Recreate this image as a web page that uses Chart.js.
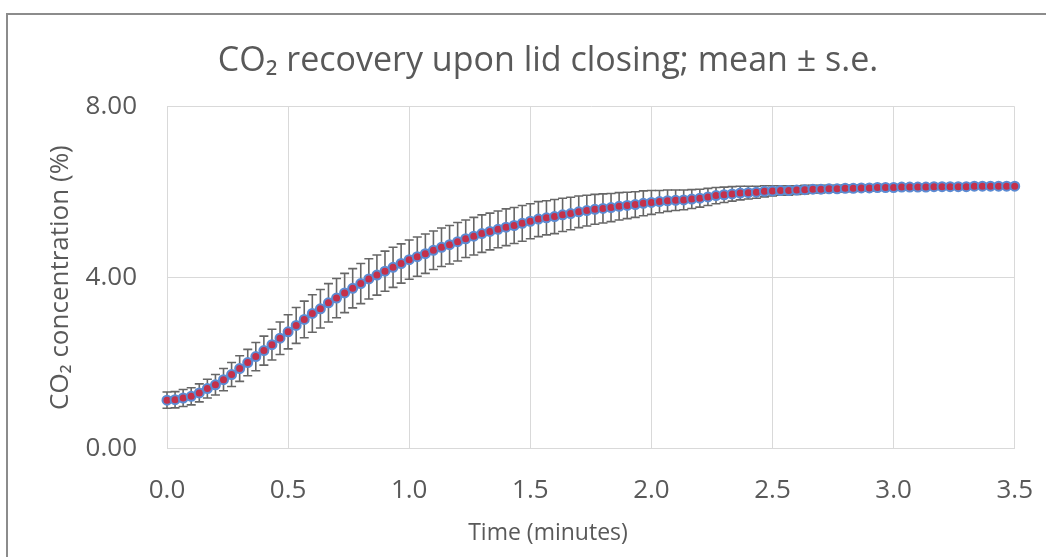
<!DOCTYPE html>
<html>
<head>
<meta charset="utf-8">
<script src="https://cdn.jsdelivr.net/npm/chart.js@4.4.1/dist/chart.umd.min.js"></script>
<style>
  html, body { margin: 0; padding: 0; background: #ffffff; overflow: hidden; }
  #wrap { position: relative; width: 1046px; height: 557px; overflow: hidden; }
  #frame { position: absolute; left: 6px; top: 13px; width: 3000px; height: 3000px;
           border-top: 2px solid #8c8c8c; border-left: 2px solid #8c8c8c; }
  canvas { position: absolute; left: 0; top: 0; }
</style>
</head>
<body>
<div id="wrap">
  <div id="frame"></div>
  <canvas id="c" width="1046" height="557"></canvas>
</div>
<script>
// ---- data ----
const timeSec = [
  0, 2, 4, 6, 8, 10, 12, 14, 16, 18, 20, 22, 24, 26, 28, 30, 32, 34, 36, 38,
  40, 42, 44, 46, 48, 50, 52, 54, 56, 58, 60, 62, 64, 66, 68, 70, 72, 74, 76, 78,
  80, 82, 84, 86, 88, 90, 92, 94, 96, 98, 100, 102, 104, 106, 108, 110, 112, 114, 116, 118,
  120, 122, 124, 126, 128, 130, 132, 134, 136, 138, 140, 142, 144, 146, 148, 150, 152, 154, 156, 158,
  160, 162, 164, 166, 168, 170, 172, 174, 176, 178, 180, 182, 184, 186, 188, 190, 192, 194, 196, 198,
  200, 202, 204, 206, 208, 210
];
const co2Mean = [
  1.13, 1.14, 1.18, 1.22, 1.30, 1.40, 1.49, 1.61, 1.73, 1.87, 2.01, 2.15, 2.29, 2.43, 2.58, 2.73,
  2.88, 3.02, 3.16, 3.27, 3.41, 3.52, 3.64, 3.75, 3.86, 3.97, 4.06, 4.15, 4.24, 4.33, 4.42,
  4.49, 4.56, 4.64, 4.71, 4.77, 4.84, 4.91, 4.97, 5.03, 5.08, 5.13, 5.18, 5.22, 5.27, 5.32,
  5.37, 5.40, 5.43, 5.47, 5.50, 5.54, 5.57, 5.60, 5.62, 5.64, 5.67, 5.69, 5.71, 5.74, 5.76,
  5.78, 5.80, 5.81, 5.82, 5.84, 5.86, 5.89, 5.92, 5.94, 5.96, 5.98, 5.99, 6.00, 6.02, 6.03,
  6.04, 6.04, 6.05, 6.06, 6.07, 6.07, 6.08, 6.08, 6.09, 6.09, 6.10, 6.10, 6.11, 6.11, 6.11,
  6.12, 6.12, 6.12, 6.12, 6.13, 6.13, 6.13, 6.13, 6.13, 6.14, 6.14, 6.14, 6.14, 6.14, 6.14
];
const co2SE = [
  0.19, 0.19, 0.20, 0.20, 0.21, 0.22, 0.24, 0.26, 0.28, 0.30, 0.31, 0.33, 0.34, 0.36, 0.38, 0.40,
  0.42, 0.43, 0.44, 0.45, 0.45, 0.46, 0.46, 0.46, 0.47, 0.47, 0.47, 0.47, 0.47, 0.46, 0.46,
  0.46, 0.46, 0.45, 0.45, 0.45, 0.45, 0.44, 0.44, 0.44, 0.43, 0.43, 0.43, 0.42, 0.42, 0.41,
  0.41, 0.40, 0.40, 0.39, 0.38, 0.37, 0.36, 0.35, 0.34, 0.33, 0.32, 0.31, 0.30, 0.29, 0.28,
  0.26, 0.25, 0.24, 0.23, 0.22, 0.21, 0.20, 0.19, 0.18, 0.17, 0.16, 0.15, 0.14, 0.13, 0.12,
  0.11, 0.11, 0.10, 0.10, 0.09, 0.09, 0.08, 0.08, 0.08, 0.07, 0.07, 0.07, 0.07, 0.06, 0.06,
  0.06, 0.06, 0.06, 0.05, 0.05, 0.05, 0.05, 0.05, 0.05, 0.04, 0.04, 0.04, 0.04, 0.04, 0.04
];
const xTicks = [0.0, 0.5, 1.0, 1.5, 2.0, 2.5, 3.0, 3.5];
const yTicks = [0.00, 4.00, 8.00];
const titleText = 'CO\u2082 recovery upon lid closing; mean \u00b1 s.e.';
const xTitle = 'Time (minutes)';
const yTitle = 'CO\u2082 concentration (%)';

const points = timeSec.map((s, i) => ({ x: s / 60, y: co2Mean[i] }));

const TEXT = '#595959';
const GRID = '#d9d9d9';
const FONT = '"Open Sans", "DejaVu Sans", sans-serif';

const errorBars = {
  id: 'errorBars',
  beforeDatasetsDraw(chart) {
    const { ctx, scales: { x, y } } = chart;
    ctx.save();
    ctx.strokeStyle = '#666666';
    ctx.lineWidth = 1.6;
    timeSec.forEach((s, i) => {
      const px = x.getPixelForValue(s / 60);
      const top = y.getPixelForValue(co2Mean[i] + co2SE[i]);
      const bot = y.getPixelForValue(co2Mean[i] - co2SE[i]);
      ctx.beginPath();
      ctx.moveTo(px, top); ctx.lineTo(px, bot);
      ctx.moveTo(px - 4.5, top); ctx.lineTo(px + 4.5, top);
      ctx.moveTo(px - 4.5, bot); ctx.lineTo(px + 4.5, bot);
      ctx.stroke();
    });
    ctx.restore();
  }
};

new Chart(document.getElementById('c'), {
  type: 'scatter',
  data: {
    datasets: [{
      label: 'CO2 mean',
      data: points,
      showLine: false,
      pointRadius: 4.5,
      pointBorderWidth: 2,
      pointBackgroundColor: '#c5304a',
      pointBorderColor: '#5b8bd3',
      clip: false
    }]
  },
  options: {
    responsive: false,
    devicePixelRatio: 1,
    animation: false,
    layout: { padding: { left: 66, right: 16, top: 0, bottom: 0 } },
    plugins: {
      legend: { display: false },
      tooltip: { enabled: false },
      title: {
        display: true,
        text: titleText,
        color: TEXT,
        font: { family: FONT, size: 34, weight: 'normal' },
        padding: { top: 41, bottom: 25 }
      },
      subtitle: {
        display: true,
        position: 'bottom',
        text: xTitle,
        color: TEXT,
        font: { family: FONT, size: 23, weight: 'normal' },
        padding: { top: 0, bottom: 10 }
      }
    },
    scales: {
      x: {
        type: 'linear',
        min: 0, max: 3.5,
        afterBuildTicks(scale) { scale.ticks = xTicks.map(v => ({ value: v })); },
        afterFit(scale) { scale.height = 71; },
        grid: { color: GRID, lineWidth: 1, drawTicks: true, tickLength: 14, tickColor: 'rgba(0,0,0,0)' },
        border: { color: GRID },
        ticks: {
          color: TEXT, padding: 13, maxRotation: 0,
          font: { family: FONT, size: 26 },
          callback: v => Number(v).toFixed(1)
        },
        title: { display: false, text: xTitle }
      },
      y: {
        type: 'linear',
        min: 0, max: 8,
        afterBuildTicks(scale) { scale.ticks = yTicks.map(v => ({ value: v })); },
        afterFit(scale) { scale.width = 101; },
        grid: { color: GRID, lineWidth: 1, drawTicks: false },
        border: { color: GRID },
        ticks: {
          color: TEXT, padding: 30,
          font: { family: FONT, size: 26 },
          callback: v => Number(v).toFixed(2)
        },
        title: {
          display: true, text: yTitle, color: TEXT,
          font: { family: FONT, size: 26 },
          padding: { top: -21, bottom: 0 }
        }
      }
    }
  },
  plugins: [errorBars]
});
</script>
</body>
</html>
